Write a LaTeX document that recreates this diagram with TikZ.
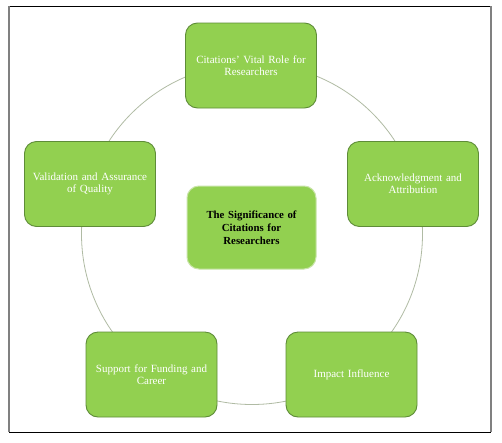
\documentclass[tikz,border=0pt]{standalone}
\usepackage{fontspec}
\setmainfont{Liberation Serif}
\definecolor{boxfill}{HTML}{92D050}
\definecolor{boxedge}{HTML}{5E8C38}
\definecolor{centeredge}{HTML}{C9E4A8}
\definecolor{ringcol}{HTML}{B0BBA4}
\begin{document}
\begin{tikzpicture}[x=1pt,y=-1pt,
  outerbox/.style={draw=boxedge, line width=0.9pt, fill=boxfill, rounded corners=12pt,
    minimum width=131pt, minimum height=85pt, text width=126pt, align=center,
    text=white, font=\fontsize{11}{12}\selectfont, inner sep=0pt},
  centerbox/.style={draw=centeredge, line width=1pt, fill=boxfill, rounded corners=12pt,
    minimum width=129pt, minimum height=83pt, text width=124pt, align=center,
    text=black, font=\fontsize{10.8}{13}\selectfont\bfseries, inner sep=0pt}]
\useasboundingbox (0,0) rectangle (502,442);
\fill[white] (0,0) rectangle (502,442);
% outer frame
\draw[black, line width=1pt] (9,6) -- (491,6);
\draw[black, line width=1pt] (9,432) -- (491,432);
\draw[gray, line width=1.4pt] (9,6) -- (9,432);
\draw[gray, line width=1.4pt] (491,6) -- (491,432);
% ring
\coordinate (ringc) at (252,234);
\draw[ringcol, line width=0.8pt] (ringc) circle (170.5pt);
% nodes
\node[outerbox] (vital) at (251,65.5) {Citations’ Vital Role for\\Researchers};
\node[outerbox] (ack) at (413,184) {Acknowledgment and\\Attribution};
\node[outerbox] (impact) at (351.5,374.5) {Impact Influence};
\node[outerbox] (support) at (151.5,374.5) {Support for Funding and\\Career};
\node[outerbox] (valid) at (90,184) {Validation and Assurance\\of Quality};
\node[centerbox] (center) at (251.5,227.5) {The Significance of\\Citations for\\Researchers};
\end{tikzpicture}
\end{document}
